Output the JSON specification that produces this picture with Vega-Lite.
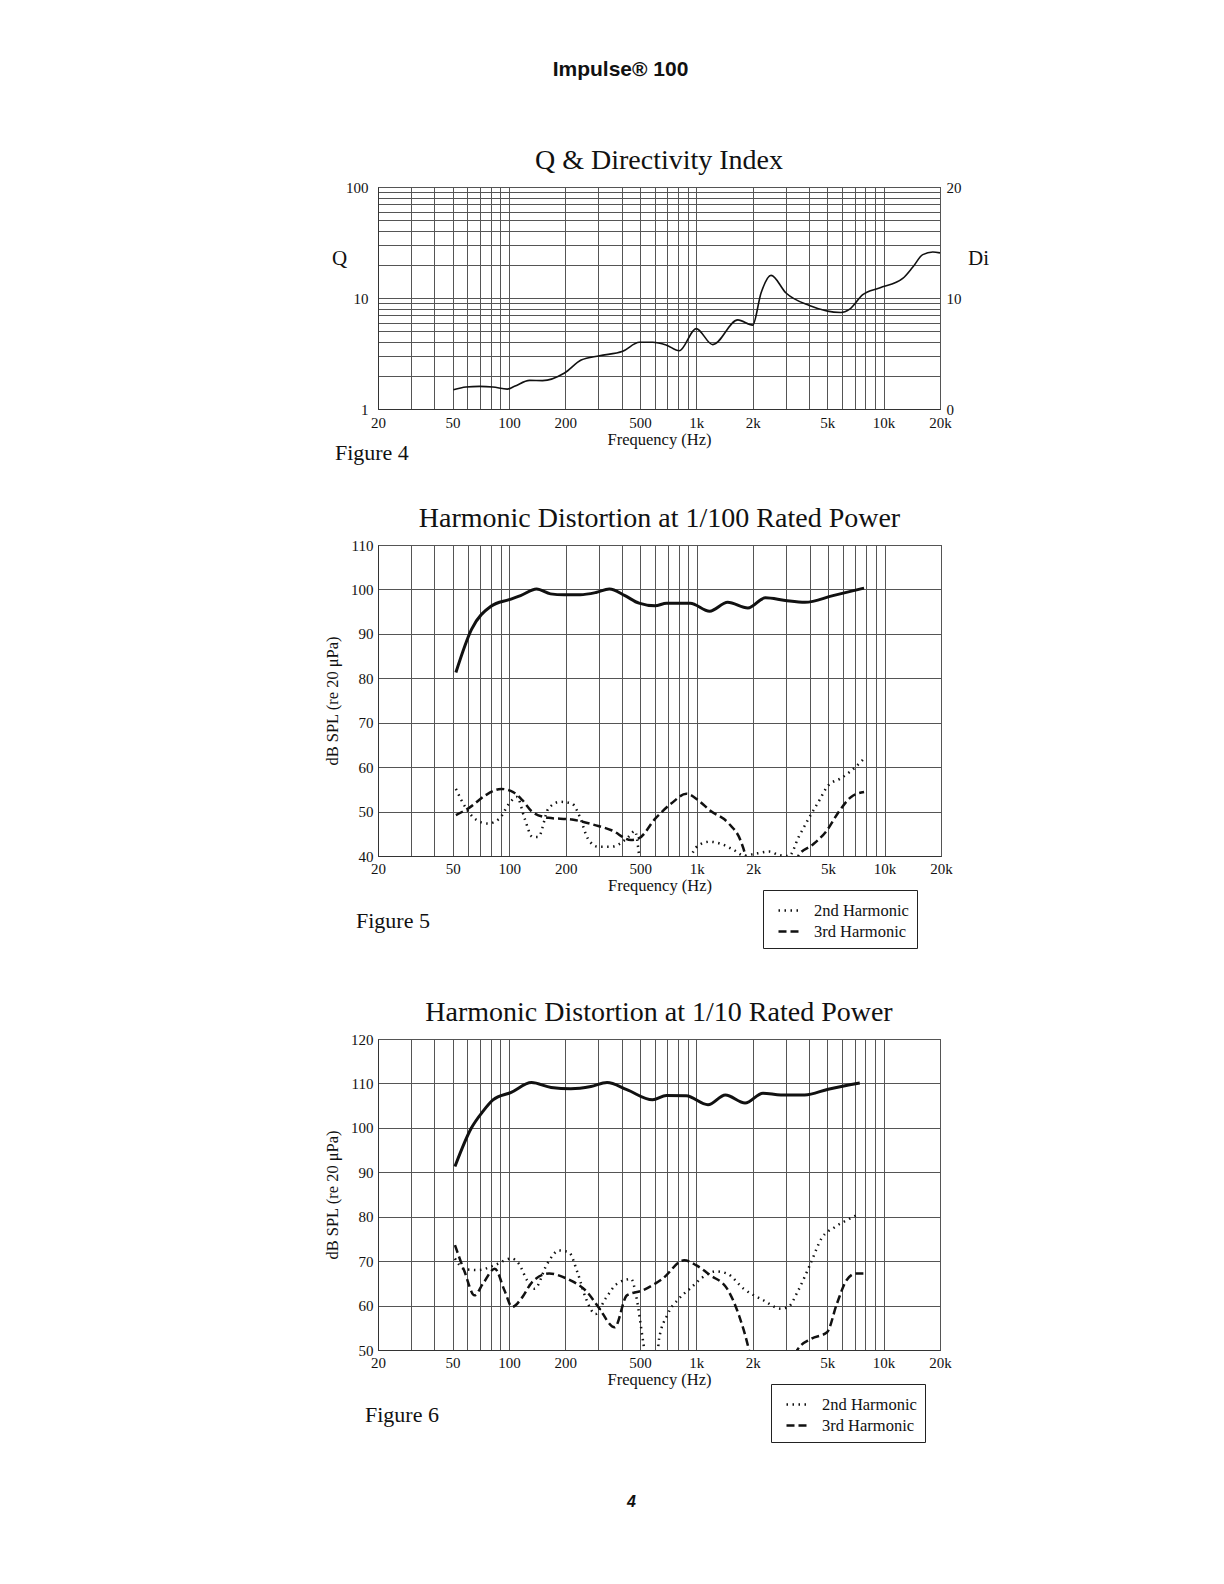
{
  "$schema": "https://vega.github.io/schema/vega-lite/v6.json",
  "background": "white",
  "padding": {"left": 324, "top": 58, "right": 5, "bottom": 5},
  "config": {
    "font": "Liberation Serif",
    "view": {"stroke": "#333", "strokeWidth": 1},
    "axis": {
      "labelFont": "Liberation Serif", "titleFont": "Liberation Serif",
      "labelColor": "#111", "titleColor": "#111",
      "labelFontSize": 15, "titleFontSize": 16.5, "titleFontWeight": "normal",
      "gridColor": "#555", "gridWidth": 1, "gridOpacity": 1,
      "domainColor": "#333", "ticks": false, "labelOverlap": false, "labelFlush": false
    },
    "title": {"font": "Liberation Serif", "fontWeight": "normal", "color": "#111"},
    "legend": {"labelFont": "Liberation Serif", "labelFontSize": 16.5, "labelColor": "#111"}
  },
  "datasets": {
    "q": [
      {"freq": 50.5, "Q": 1.49}, {"freq": 59, "Q": 1.58}, {"freq": 69.5, "Q": 1.6}, {"freq": 82, "Q": 1.58},
      {"freq": 98, "Q": 1.51}, {"freq": 107, "Q": 1.6}, {"freq": 129, "Q": 1.81}, {"freq": 151, "Q": 1.8},
      {"freq": 198, "Q": 2.11}, {"freq": 243, "Q": 2.76}, {"freq": 304, "Q": 3.02}, {"freq": 405, "Q": 3.31},
      {"freq": 497, "Q": 3.99}, {"freq": 586, "Q": 3.99}, {"freq": 690, "Q": 3.77}, {"freq": 812, "Q": 3.35},
      {"freq": 998, "Q": 5.3}, {"freq": 1225, "Q": 3.8}, {"freq": 1666, "Q": 6.35}, {"freq": 2000, "Q": 5.7},
      {"freq": 2217, "Q": 11.1}, {"freq": 2507, "Q": 16}, {"freq": 3013, "Q": 11.1}, {"freq": 4016, "Q": 8.56},
      {"freq": 5930, "Q": 7.4}, {"freq": 6567, "Q": 7.9}, {"freq": 7740, "Q": 10.7}, {"freq": 9507, "Q": 12.3},
      {"freq": 12650, "Q": 15}, {"freq": 14320, "Q": 19}, {"freq": 16190, "Q": 24.6}, {"freq": 18300, "Q": 26},
      {"freq": 20000, "Q": 25.5}
    ],
    "f5main": [
      {"freq": 52, "spl": 81.3}, {"freq": 63, "spl": 91}, {"freq": 80, "spl": 96.2}, {"freq": 100, "spl": 97.7},
      {"freq": 115, "spl": 98.6}, {"freq": 140, "spl": 100.1}, {"freq": 166, "spl": 99.0}, {"freq": 196, "spl": 98.8},
      {"freq": 239, "spl": 98.8}, {"freq": 290, "spl": 99.3}, {"freq": 342, "spl": 100.1}, {"freq": 414, "spl": 98.6},
      {"freq": 492, "spl": 96.9}, {"freq": 599, "spl": 96.3}, {"freq": 690, "spl": 96.9}, {"freq": 921, "spl": 96.9},
      {"freq": 1170, "spl": 95.1}, {"freq": 1460, "spl": 97.1}, {"freq": 1870, "spl": 95.8}, {"freq": 2320, "spl": 98.1},
      {"freq": 2960, "spl": 97.5}, {"freq": 3770, "spl": 97.1}, {"freq": 5310, "spl": 98.6}, {"freq": 7780, "spl": 100.3}
    ],
    "f5harm": [
      {"series": "2nd Harmonic", "freq": 52, "spl": 55.1}, {"series": "2nd Harmonic", "freq": 59, "spl": 50.7},
      {"series": "2nd Harmonic", "freq": 66.5, "spl": 48.2}, {"series": "2nd Harmonic", "freq": 76.7, "spl": 47.3},
      {"series": "2nd Harmonic", "freq": 88.6, "spl": 48.4}, {"series": "2nd Harmonic", "freq": 100, "spl": 51.8},
      {"series": "2nd Harmonic", "freq": 110, "spl": 53.3}, {"series": "2nd Harmonic", "freq": 121, "spl": 48.4},
      {"series": "2nd Harmonic", "freq": 133, "spl": 44.3}, {"series": "2nd Harmonic", "freq": 143, "spl": 44.3},
      {"series": "2nd Harmonic", "freq": 162, "spl": 50.7}, {"series": "2nd Harmonic", "freq": 187, "spl": 52.2},
      {"series": "2nd Harmonic", "freq": 216, "spl": 51.8}, {"series": "2nd Harmonic", "freq": 238, "spl": 48.8},
      {"series": "2nd Harmonic", "freq": 262, "spl": 44.0}, {"series": "2nd Harmonic", "freq": 297, "spl": 42.1},
      {"series": "2nd Harmonic", "freq": 351, "spl": 42.1}, {"series": "2nd Harmonic", "freq": 425, "spl": 44},
      {"series": "2nd Harmonic", "freq": 468, "spl": 45.6}, {"series": "2nd Harmonic", "freq": 492, "spl": 40.3},
      {"series": "2nd Harmonic", "freq": 510, "spl": 34}, {"series": "2nd Harmonic", "freq": 900, "spl": 34},
      {"series": "2nd Harmonic", "freq": 940, "spl": 40.2}, {"series": "2nd Harmonic", "freq": 1030, "spl": 42.5},
      {"series": "2nd Harmonic", "freq": 1170, "spl": 43.2}, {"series": "2nd Harmonic", "freq": 1370, "spl": 42.6},
      {"series": "2nd Harmonic", "freq": 1580, "spl": 41.3}, {"series": "2nd Harmonic", "freq": 1780, "spl": 40.1},
      {"series": "2nd Harmonic", "freq": 2100, "spl": 40.6}, {"series": "2nd Harmonic", "freq": 2430, "spl": 41},
      {"series": "2nd Harmonic", "freq": 2740, "spl": 40.2}, {"series": "2nd Harmonic", "freq": 3100, "spl": 40},
      {"series": "2nd Harmonic", "freq": 3490, "spl": 44.3}, {"series": "2nd Harmonic", "freq": 3940, "spl": 48.4},
      {"series": "2nd Harmonic", "freq": 4450, "spl": 52.2}, {"series": "2nd Harmonic", "freq": 5020, "spl": 55.9},
      {"series": "2nd Harmonic", "freq": 5800, "spl": 57.4}, {"series": "2nd Harmonic", "freq": 6700, "spl": 59.3},
      {"series": "2nd Harmonic", "freq": 7780, "spl": 61.9},
      {"series": "3rd Harmonic", "freq": 52, "spl": 49.2}, {"series": "3rd Harmonic", "freq": 62, "spl": 51},
      {"series": "3rd Harmonic", "freq": 75, "spl": 53.7}, {"series": "3rd Harmonic", "freq": 90.5, "spl": 55.1},
      {"series": "3rd Harmonic", "freq": 105, "spl": 54.4}, {"series": "3rd Harmonic", "freq": 118, "spl": 52.5},
      {"series": "3rd Harmonic", "freq": 133, "spl": 49.9}, {"series": "3rd Harmonic", "freq": 162, "spl": 48.6},
      {"series": "3rd Harmonic", "freq": 216, "spl": 48.2}, {"series": "3rd Harmonic", "freq": 290, "spl": 46.9},
      {"series": "3rd Harmonic", "freq": 351, "spl": 45.8}, {"series": "3rd Harmonic", "freq": 446, "spl": 43.6},
      {"series": "3rd Harmonic", "freq": 492, "spl": 44}, {"series": "3rd Harmonic", "freq": 600, "spl": 48.4},
      {"series": "3rd Harmonic", "freq": 730, "spl": 51.8}, {"series": "3rd Harmonic", "freq": 880, "spl": 54},
      {"series": "3rd Harmonic", "freq": 1020, "spl": 52.5}, {"series": "3rd Harmonic", "freq": 1170, "spl": 50.3},
      {"series": "3rd Harmonic", "freq": 1480, "spl": 47.3}, {"series": "3rd Harmonic", "freq": 1720, "spl": 43.2},
      {"series": "3rd Harmonic", "freq": 1810, "spl": 40.2}, {"series": "3rd Harmonic", "freq": 1900, "spl": 35},
      {"series": "3rd Harmonic", "freq": 3300, "spl": 35}, {"series": "3rd Harmonic", "freq": 3490, "spl": 40.2},
      {"series": "3rd Harmonic", "freq": 4130, "spl": 42.5}, {"series": "3rd Harmonic", "freq": 4880, "spl": 45.5},
      {"series": "3rd Harmonic", "freq": 5780, "spl": 50.3}, {"series": "3rd Harmonic", "freq": 6640, "spl": 53.3},
      {"series": "3rd Harmonic", "freq": 7780, "spl": 54.4}
    ],
    "f6main": [
      {"freq": 51.5, "spl": 91.3}, {"freq": 62.9, "spl": 99.9}, {"freq": 72.6, "spl": 103.7}, {"freq": 82.2, "spl": 106.3},
      {"freq": 102.8, "spl": 108}, {"freq": 132, "spl": 110.2}, {"freq": 168, "spl": 109.1}, {"freq": 214, "spl": 108.8},
      {"freq": 274, "spl": 109.3}, {"freq": 334, "spl": 110.2}, {"freq": 426, "spl": 108.6}, {"freq": 584, "spl": 106.3},
      {"freq": 693, "spl": 107.3}, {"freq": 885, "spl": 107.2}, {"freq": 1155, "spl": 105.2}, {"freq": 1430, "spl": 107.4},
      {"freq": 1822, "spl": 105.6}, {"freq": 2270, "spl": 107.8}, {"freq": 2830, "spl": 107.4}, {"freq": 3790, "spl": 107.4},
      {"freq": 5060, "spl": 108.7}, {"freq": 7460, "spl": 110.1}
    ],
    "f6harm": [
      {"series": "2nd Harmonic", "freq": 51.5, "spl": 70.6}, {"series": "2nd Harmonic", "freq": 58, "spl": 68.2},
      {"series": "2nd Harmonic", "freq": 69, "spl": 68}, {"series": "2nd Harmonic", "freq": 84, "spl": 69.1},
      {"series": "2nd Harmonic", "freq": 103, "spl": 70.6}, {"series": "2nd Harmonic", "freq": 113, "spl": 69.4},
      {"series": "2nd Harmonic", "freq": 125, "spl": 65.7}, {"series": "2nd Harmonic", "freq": 137, "spl": 63.8},
      {"series": "2nd Harmonic", "freq": 160, "spl": 69.4}, {"series": "2nd Harmonic", "freq": 185, "spl": 72.4},
      {"series": "2nd Harmonic", "freq": 209, "spl": 72}, {"series": "2nd Harmonic", "freq": 232, "spl": 67.5},
      {"series": "2nd Harmonic", "freq": 256, "spl": 61.9}, {"series": "2nd Harmonic", "freq": 290, "spl": 58.1},
      {"series": "2nd Harmonic", "freq": 327, "spl": 61.5}, {"series": "2nd Harmonic", "freq": 378, "spl": 64.9},
      {"series": "2nd Harmonic", "freq": 449, "spl": 66}, {"series": "2nd Harmonic", "freq": 481, "spl": 61.5},
      {"series": "2nd Harmonic", "freq": 520, "spl": 52}, {"series": "2nd Harmonic", "freq": 548, "spl": 46},
      {"series": "2nd Harmonic", "freq": 610, "spl": 46}, {"series": "2nd Harmonic", "freq": 633, "spl": 52.5},
      {"series": "2nd Harmonic", "freq": 699, "spl": 57.8}, {"series": "2nd Harmonic", "freq": 806, "spl": 61.5},
      {"series": "2nd Harmonic", "freq": 925, "spl": 63.8}, {"series": "2nd Harmonic", "freq": 1120, "spl": 66.8},
      {"series": "2nd Harmonic", "freq": 1270, "spl": 67.7}, {"series": "2nd Harmonic", "freq": 1460, "spl": 67.2},
      {"series": "2nd Harmonic", "freq": 1790, "spl": 63.8}, {"series": "2nd Harmonic", "freq": 2280, "spl": 61.2},
      {"series": "2nd Harmonic", "freq": 2830, "spl": 59.3}, {"series": "2nd Harmonic", "freq": 3100, "spl": 59.7},
      {"series": "2nd Harmonic", "freq": 3500, "spl": 63.4}, {"series": "2nd Harmonic", "freq": 4040, "spl": 69.1},
      {"series": "2nd Harmonic", "freq": 4660, "spl": 75.1}, {"series": "2nd Harmonic", "freq": 5500, "spl": 77.7},
      {"series": "2nd Harmonic", "freq": 6350, "spl": 79.2}, {"series": "2nd Harmonic", "freq": 7460, "spl": 80.7},
      {"series": "3rd Harmonic", "freq": 51.5, "spl": 73.6}, {"series": "3rd Harmonic", "freq": 58, "spl": 67.6},
      {"series": "3rd Harmonic", "freq": 65.5, "spl": 62.3}, {"series": "3rd Harmonic", "freq": 72.6, "spl": 64.9},
      {"series": "3rd Harmonic", "freq": 84, "spl": 68.3}, {"series": "3rd Harmonic", "freq": 94.7, "spl": 63.4},
      {"series": "3rd Harmonic", "freq": 104, "spl": 59.7}, {"series": "3rd Harmonic", "freq": 118, "spl": 61.9},
      {"series": "3rd Harmonic", "freq": 133, "spl": 65.3}, {"series": "3rd Harmonic", "freq": 164, "spl": 67.2},
      {"series": "3rd Harmonic", "freq": 205, "spl": 66}, {"series": "3rd Harmonic", "freq": 262, "spl": 63},
      {"series": "3rd Harmonic", "freq": 300, "spl": 59.7}, {"series": "3rd Harmonic", "freq": 367, "spl": 55.1},
      {"series": "3rd Harmonic", "freq": 426, "spl": 62.3}, {"series": "3rd Harmonic", "freq": 515, "spl": 63.4},
      {"series": "3rd Harmonic", "freq": 659, "spl": 66}, {"series": "3rd Harmonic", "freq": 862, "spl": 70.2},
      {"series": "3rd Harmonic", "freq": 997, "spl": 69.1}, {"series": "3rd Harmonic", "freq": 1190, "spl": 66.8},
      {"series": "3rd Harmonic", "freq": 1460, "spl": 63.8}, {"series": "3rd Harmonic", "freq": 1690, "spl": 57.8},
      {"series": "3rd Harmonic", "freq": 1910, "spl": 50}, {"series": "3rd Harmonic", "freq": 2000, "spl": 46},
      {"series": "3rd Harmonic", "freq": 3300, "spl": 46}, {"series": "3rd Harmonic", "freq": 3460, "spl": 50},
      {"series": "3rd Harmonic", "freq": 4100, "spl": 52.5}, {"series": "3rd Harmonic", "freq": 4990, "spl": 54},
      {"series": "3rd Harmonic", "freq": 5630, "spl": 60.4}, {"series": "3rd Harmonic", "freq": 6340, "spl": 65.7},
      {"series": "3rd Harmonic", "freq": 7110, "spl": 67.2}, {"series": "3rd Harmonic", "freq": 7820, "spl": 67.2}
    ],
    "di": [{"di": 0}, {"di": 20}]
  },
  "title": {"text": "4", "anchor": "middle", "orient": "bottom", "font": "Liberation Sans", "fontSize": 16, "fontWeight": "bold", "fontStyle": "italic", "offset": 51, "dx": -25},
  "resolve": {"scale": {"strokeDash": "independent"}, "legend": {"strokeDash": "independent"}},
  "vconcat": [
    {
      "title": {"text": "Impulse® 100", "anchor": "middle", "font": "Liberation Sans", "fontSize": 21, "fontWeight": "bold", "offset": 67, "dx": -36},
      "spacing": 40,
      "resolve": {"scale": {"strokeDash": "independent"}, "legend": {"strokeDash": "independent"}},
      "vconcat": [
        {
          "title": {"text": "Figure 4", "orient": "bottom", "anchor": "start", "fontSize": 22, "offset": -5, "dx": 4},
          "vconcat": [
            {
              "width": 562, "height": 222,
              "title": {"text": "Q & Directivity Index", "fontSize": 28, "offset": 5, "frame": "group"},
              "layer": [
                {
                  "data": {"name": "q"},
                  "mark": {"type": "line", "color": "#111", "strokeWidth": 1.6, "interpolate": "monotone"},
                  "encoding": {
                    "x": {"field": "freq", "type": "quantitative",
                      "scale": {"type": "log", "domain": [20, 20000]},
                      "axis": {"values": [20,30,40,50,60,70,80,90,100,200,300,400,500,600,700,800,900,1000,2000,3000,4000,5000,6000,7000,8000,9000,10000,20000],
                        "labelExpr": "indexof([20,50,100,200,500,1000,2000,5000,10000,20000], datum.value) >= 0 ? (datum.value >= 1000 ? (datum.value/1000) + 'k' : '' + datum.value) : ''",
                        "title": "Frequency (Hz)", "labelPadding": 6, "titlePadding": 1}},
                    "y": {"field": "Q", "type": "quantitative",
                      "scale": {"type": "log", "domain": [1, 100]},
                      "axis": {"values": [1,2,3,4,5,6,7,8,9,10,20,30,40,50,60,70,80,90,100],
                        "labelExpr": "indexof([1,10,100], datum.value) >= 0 ? '' + datum.value : ''",
                        "title": "Q", "titleAngle": 0, "titleFontSize": 21, "titleAlign": "center", "titleBaseline": "middle",
                        "titleX": -39, "titleY": 71, "labelPadding": 10}}
                  }
                },
                {
                  "data": {"name": "di"},
                  "mark": {"type": "point", "opacity": 0},
                  "encoding": {
                    "y": {"field": "di", "type": "quantitative", "scale": {"domain": [0, 20]},
                      "axis": {"orient": "right", "values": [0, 10, 20], "grid": false, "domain": false,
                        "title": "Di", "titleAngle": 0, "titleFontSize": 21, "titleAlign": "center", "titleBaseline": "middle",
                        "titleX": 38, "titleY": 71, "labelPadding": 6}}
                  }
                }
              ],
              "resolve": {"scale": {"y": "independent"}}
            }
          ]
        },
        {
          "spacing": 49,
          "resolve": {"scale": {"strokeDash": "independent"}, "legend": {"strokeDash": "independent"}},
          "vconcat": [
            {
              "title": {"text": "Figure 5", "orient": "bottom", "anchor": "start", "fontSize": 22, "offset": -38, "dx": 32},
              "vconcat": [
                {
                  "width": 563, "height": 311,
                  "title": {"text": "Harmonic Distortion at 1/100 Rated Power", "fontSize": 28, "offset": 5, "frame": "group"},
                  "encoding": {
                    "x": {"field": "freq", "type": "quantitative",
                      "scale": {"type": "log", "domain": [20, 20000]},
                      "axis": {"values": [20,30,40,50,60,70,80,90,100,200,300,400,500,600,700,800,900,1000,2000,3000,4000,5000,6000,7000,8000,9000,10000,20000],
                        "labelExpr": "indexof([20,50,100,200,500,1000,2000,5000,10000,20000], datum.value) >= 0 ? (datum.value >= 1000 ? (datum.value/1000) + 'k' : '' + datum.value) : ''",
                        "title": "Frequency (Hz)", "labelPadding": 5, "titlePadding": 1}},
                    "y": {"field": "spl", "type": "quantitative",
                      "scale": {"domain": [40, 110]},
                      "axis": {"values": [40,50,60,70,80,90,100,110], "title": "dB SPL (re 20 μPa)", "labelPadding": 5, "titlePadding": 10}}
                  },
                  "layer": [
                    {"data": {"name": "f5main"}, "mark": {"type": "line", "color": "#111", "strokeWidth": 3, "interpolate": "monotone"}},
                    {"data": {"name": "f5harm"}, "mark": {"type": "line", "color": "#111", "strokeWidth": 2.5, "interpolate": "monotone", "clip": true},
                      "encoding": {"strokeDash": {"field": "series", "type": "nominal",
                        "scale": {"domain": ["2nd Harmonic", "3rd Harmonic"], "range": [[1.5, 4.5], [8, 4]]},
                        "legend": {"title": null, "orient": "none", "legendX": 385, "legendY": 345, "strokeColor": "#222", "padding": 8,
                          "symbolType": "stroke", "symbolStrokeWidth": 2.5, "symbolStrokeColor": "#111", "symbolSize": 484, "symbolOffset": 6, "labelOffset": 12, "rowPadding": -2}}}}
                  ]
                }
              ]
            },
            {
              "title": {"text": "Figure 6", "orient": "bottom", "anchor": "start", "fontSize": 22, "offset": -38, "dx": 41},
              "vconcat": [
                {
                  "width": 562, "height": 311,
                  "title": {"text": "Harmonic Distortion at 1/10 Rated Power", "fontSize": 28, "offset": 5, "frame": "group"},
                  "encoding": {
                    "x": {"field": "freq", "type": "quantitative",
                      "scale": {"type": "log", "domain": [20, 20000]},
                      "axis": {"values": [20,30,40,50,60,70,80,90,100,200,300,400,500,600,700,800,900,1000,2000,3000,4000,5000,6000,7000,8000,9000,10000,20000],
                        "labelExpr": "indexof([20,50,100,200,500,1000,2000,5000,10000,20000], datum.value) >= 0 ? (datum.value >= 1000 ? (datum.value/1000) + 'k' : '' + datum.value) : ''",
                        "title": "Frequency (Hz)", "labelPadding": 5, "titlePadding": 1}},
                    "y": {"field": "spl", "type": "quantitative",
                      "scale": {"domain": [50, 120]},
                      "axis": {"values": [50,60,70,80,90,100,110,120], "title": "dB SPL (re 20 μPa)", "labelPadding": 5, "titlePadding": 10}}
                  },
                  "layer": [
                    {"data": {"name": "f6main"}, "mark": {"type": "line", "color": "#111", "strokeWidth": 3, "interpolate": "monotone"}},
                    {"data": {"name": "f6harm"}, "mark": {"type": "line", "color": "#111", "strokeWidth": 2.5, "interpolate": "monotone", "clip": true},
                      "encoding": {"strokeDash": {"field": "series", "type": "nominal",
                        "scale": {"domain": ["2nd Harmonic", "3rd Harmonic"], "range": [[1.5, 4.5], [8, 4]]},
                        "legend": {"title": null, "orient": "none", "legendX": 393, "legendY": 345, "strokeColor": "#222", "padding": 8,
                          "symbolType": "stroke", "symbolStrokeWidth": 2.5, "symbolStrokeColor": "#111", "symbolSize": 484, "symbolOffset": 6, "labelOffset": 12, "rowPadding": -2}}}}
                  ]
                }
              ]
            }
          ]
        }
      ]
    }
  ]
}
